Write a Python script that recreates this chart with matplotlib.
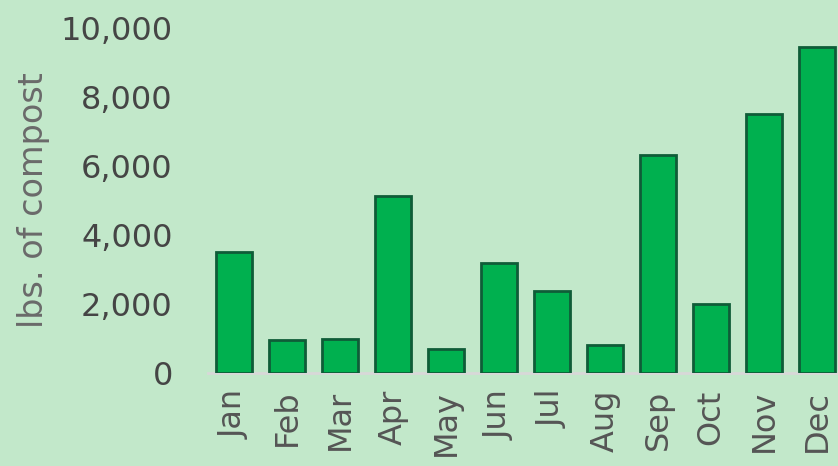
import matplotlib
matplotlib.use('Agg')
import matplotlib.pyplot as plt
from matplotlib.ticker import FuncFormatter

months = ['Jan', 'Feb', 'Mar', 'Apr', 'May', 'Jun',
          'Jul', 'Aug', 'Sep', 'Oct', 'Nov', 'Dec']
compost = [3500, 950, 1000, 5130, 700, 3190, 2380, 810, 6320, 2000, 7500, 9450]
y_ticks = [0, 2000, 4000, 6000, 8000, 10000]

bg = '#c2e8ca'
plt.rcParams['font.family'] = ['DejaVu Sans']

fig = plt.figure(figsize=(8.38, 4.66), dpi=100, facecolor=bg)
ax = fig.add_axes([207.5 / 838, 1 - 373 / 466, (843.5 - 207.5) / 838, (373 - 28) / 466])
ax.set_facecolor(bg)

ax.bar(range(len(months)), compost, width=0.68, color='#00b04f',
       edgecolor='#0f5c38', linewidth=2, zorder=3)

ax.set_xlim(-0.5, len(months) - 0.5)
ax.set_ylim(0, 10000)
ax.set_yticks(y_ticks)
ax.yaxis.set_major_formatter(FuncFormatter(lambda v, p: f'{int(v):,}'))
ax.set_xticks(range(len(months)))
ax.set_xticklabels(months, rotation=90)

ax.tick_params(axis='y', length=0, pad=25, labelsize=23, labelcolor='#454545')
ax.tick_params(axis='x', length=0, pad=12, labelsize=23, labelcolor='#555555')

for s in ['top', 'right', 'left']:
    ax.spines[s].set_visible(False)
ax.spines['bottom'].set_color('#d8d8d8')
ax.spines['bottom'].set_linewidth(2)

ax.set_ylabel('lbs. of compost', fontsize=24, color='#6a6a6a', labelpad=8)

fig.savefig('out.png', dpi=100, facecolor=bg)
